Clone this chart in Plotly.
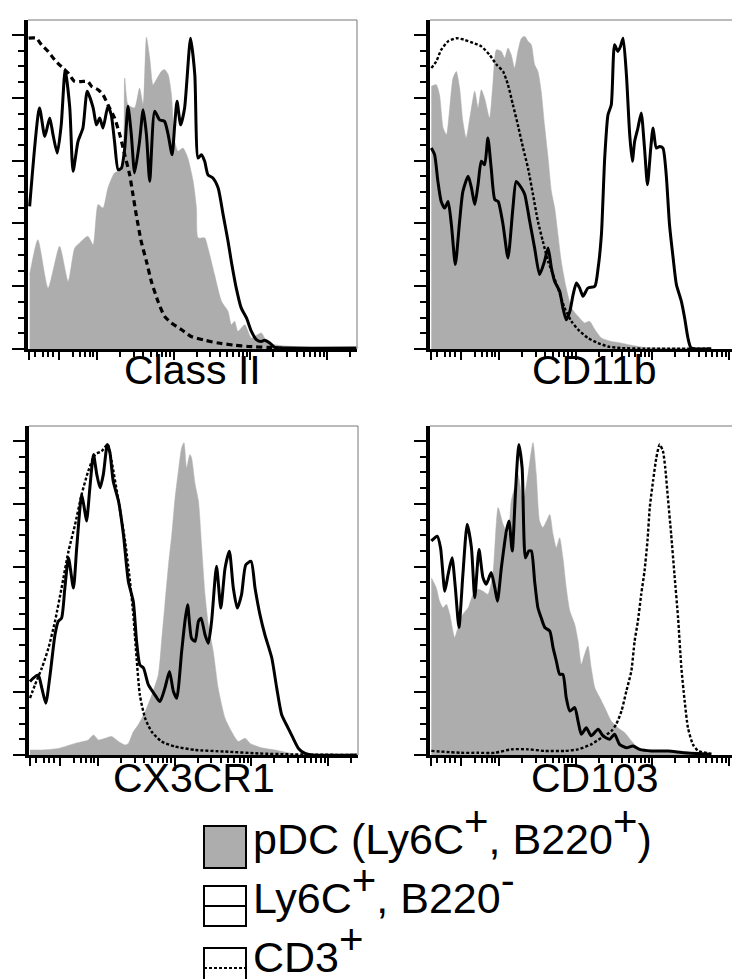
import numpy as np
import plotly.graph_objects as go

# x: position along the biexponential fluorescence axis (% of axis width)
# y: % of mode

# ---- Class II ----
classii_pdc_x = [0.5, 3.0, 6.1, 9.6, 12.2, 14.2, 15.7, 18.2, 19.8, 21.3, 22.8, 24.3, 26.3, 28.4, 29.4,
                 30.4, 32.4, 33.9, 35.0, 36.0, 37.0, 38.0, 39.0, 40.5, 41.5, 42.6, 43.6, 44.6, 45.6, 47.1,
                 48.6, 50.2, 51.2, 51.7, 53.7, 54.7, 56.7, 58.8, 60.8, 61.8, 62.8, 63.8, 65.9, 67.9, 70.9,
                 72.9, 80.0, 99.8]
classii_pdc_y = [23.7, 34.8, 19.4, 32.7, 21.5, 32.2, 33.8, 35.9, 33.2, 46.0, 44.9, 51.3, 56.1, 57.1, 86.3,
                 77.8, 76.8, 83.1, 77.8, 99.3, 92.7, 84.2, 85.8, 88.4, 89.0, 87.4, 81.0, 66.1, 63.0, 64.0,
                 60.8, 53.4, 44.9, 35.4, 35.4, 32.2, 23.7, 15.2, 12.0, 7.7, 8.8, 5.6, 7.7, 3.5, 5.1,
                 1.9, 0.8, 0.3]
classii_ly6c_x = [0.5, 3.5, 5.1, 6.6, 7.6, 8.9, 10.1, 11.3, 12.7, 13.7, 15.2, 16.7, 18.0, 19.8, 20.8,
                  21.8, 22.8, 24.3, 25.3, 26.3, 27.4, 28.4, 29.4, 30.4, 31.4, 32.4, 33.9, 35.0, 36.0, 37.0,
                  38.5, 40.0, 41.5, 42.6, 43.8, 44.6, 45.3, 46.4, 47.6, 49.4, 50.7, 51.7, 52.7, 53.7, 54.7,
                  56.2, 57.8, 59.3, 60.8, 61.8, 63.3, 64.8, 66.4, 67.9, 69.4, 70.9, 71.9, 73.5, 75.0, 80.0,
                  99.8]
classii_ly6c_y = [45.4, 76.8, 67.7, 73.6, 68.3, 62.4, 71.4, 89.0, 76.8, 56.6, 66.1, 70.4, 82.1, 76.8, 71.4,
                  73.6, 70.4, 77.3, 74.6, 66.1, 57.1, 57.6, 64.0, 77.3, 68.3, 56.1, 66.1, 76.2, 68.3, 53.4,
                  75.7, 73.0, 72.5, 68.3, 61.9, 71.4, 78.9, 71.4, 76.8, 99.0, 87.4, 60.8, 61.9, 59.8, 55.5,
                  54.5, 51.3, 42.8, 34.3, 27.9, 19.4, 13.1, 9.9, 5.6, 3.0, 2.4, 2.8, 1.9, 0.5, 0.3,
                  0.3]
classii_cd3_x = [0.2, 2.5, 4.1, 6.1, 8.1, 10.1, 12.2, 14.2, 16.2, 18.2, 19.3, 21.3, 22.8, 24.3, 26.3,
                 27.9, 29.4, 30.9, 31.9, 32.9, 34.4, 36.0, 37.5, 39.5, 41.5, 43.6, 46.6, 49.6, 53.7, 57.8,
                 62.8, 66.9, 72.9, 80.0, 99.8]
classii_cd3_y = [99.0, 99.0, 96.9, 94.8, 92.1, 90.0, 87.9, 85.2, 85.2, 85.2, 83.7, 82.6, 81.0, 77.8, 73.6,
                 68.3, 61.9, 55.5, 49.2, 42.8, 34.3, 27.9, 21.5, 15.2, 10.4, 8.3, 6.2, 4.0, 2.8, 1.9,
                 1.2, 0.8, 0.5, 0.1, 0.1]

# ---- CD11b ----
cd11b_pdc_x = [0.4, 1.9, 2.9, 4.0, 5.0, 6.0, 7.0, 8.0, 9.0, 10.0, 11.0, 12.1, 13.6, 14.6, 15.6,
               16.6, 18.1, 19.1, 20.2, 21.7, 22.7, 23.7, 24.7, 25.7, 26.7, 27.8, 28.8, 29.8, 30.8, 31.8,
               32.8, 33.8, 34.8, 35.9, 36.9, 37.9, 38.9, 39.9, 41.4, 43.0, 45.0, 47.0, 48.5, 50.1, 52.1,
               55.1, 57.1, 61.2, 65.2, 75.4, 85.5]
cd11b_pdc_y = [83.7, 84.2, 81.0, 70.4, 68.3, 76.8, 86.3, 88.4, 83.1, 72.5, 67.2, 73.6, 82.1, 76.8, 82.6,
               79.9, 73.6, 84.2, 95.3, 94.8, 92.7, 95.9, 93.7, 89.5, 94.8, 99.0, 99.6, 98.0, 96.9, 90.6,
               88.4, 82.1, 71.4, 60.8, 50.2, 44.9, 36.4, 27.9, 19.4, 13.1, 10.4, 8.3, 8.8, 6.2, 3.5,
               2.4, 2.1, 1.2, 0.5, 0.3, 0.1]
cd11b_ly6c_x = [0.4, 1.4, 2.4, 3.4, 4.5, 5.5, 6.5, 7.7, 9.0, 10.0, 11.6, 12.6, 13.6, 14.6, 15.6,
                16.6, 17.6, 18.6, 19.7, 20.7, 22.2, 23.7, 25.2, 26.2, 27.8, 28.8, 30.3, 31.8, 33.3, 34.8,
                35.9, 36.9, 37.9, 39.4, 40.4, 41.4, 42.5, 43.5, 44.5, 45.5, 46.5, 48.0, 50.1, 51.1, 52.1,
                53.1, 54.1, 55.1, 56.1, 57.1, 57.9, 58.7, 59.7, 60.7, 61.5, 62.2, 63.2, 64.2, 65.2, 66.1,
                67.1, 67.8, 68.8, 69.8, 70.8, 71.8, 72.8, 73.9, 74.9, 76.4, 77.4, 78.4, 79.4, 85.5]
cd11b_ly6c_y = [64.0, 61.9, 53.4, 47.0, 44.9, 47.0, 39.6, 26.9, 40.7, 50.2, 55.0, 51.3, 46.0, 52.3, 59.8,
                58.7, 67.2, 57.6, 47.6, 47.0, 39.6, 29.0, 44.9, 53.4, 51.3, 49.2, 40.7, 32.2, 23.7, 27.9,
                32.2, 25.8, 21.5, 18.4, 13.1, 9.3, 12.0, 17.3, 21.0, 19.4, 16.8, 19.4, 20.0, 25.8, 36.4,
                60.8, 74.6, 77.8, 96.9, 94.8, 96.4, 99.0, 87.4, 68.3, 59.8, 66.1, 70.4, 75.2, 64.0, 52.3,
                64.0, 70.4, 64.0, 64.5, 64.0, 55.5, 39.6, 29.0, 20.5, 15.2, 9.9, 3.5, 0.3, 0.1]
cd11b_cd3_x = [0.4, 1.9, 3.4, 5.5, 8.0, 10.5, 13.1, 15.6, 18.1, 20.2, 22.2, 23.7, 25.2, 26.7, 28.3,
               29.8, 31.3, 32.8, 34.3, 35.9, 37.4, 38.9, 40.9, 43.0, 45.0, 48.0, 51.1, 54.1, 58.1, 65.2,
               85.5]
cd11b_cd3_y = [89.5, 91.6, 95.3, 98.0, 99.0, 98.5, 97.5, 96.4, 93.7, 90.6, 88.4, 84.2, 77.8, 71.4, 64.0,
               57.6, 49.2, 40.7, 34.3, 27.9, 23.7, 19.4, 13.1, 8.8, 6.2, 3.5, 1.9, 0.8, 0.3, 0.1,
               0.1]

# ---- CX3CR1 ----
cx3cr1_pdc_x = [0.3, 3.9, 8.9, 14.0, 18.0, 19.6, 21.1, 23.1, 25.1, 27.2, 29.2, 30.2, 31.7, 33.2, 35.3,
                37.3, 39.3, 40.3, 41.3, 42.4, 43.4, 44.4, 45.4, 46.4, 47.1, 47.9, 48.9, 49.4, 50.5, 51.5,
                52.5, 53.5, 54.5, 56.0, 57.5, 59.6, 61.6, 63.6, 65.7, 67.2, 70.7, 74.8, 79.8, 84.9, 99.6]
cx3cr1_pdc_y = [1.6, 1.6, 2.1, 3.7, 4.8, 6.4, 4.8, 5.3, 5.9, 4.3, 3.2, 3.7, 7.4, 9.6, 13.8,
                19.1, 25.5, 36.2, 47.9, 60.6, 70.2, 81.9, 90.4, 97.9, 99.5, 91.5, 95.7, 94.7, 86.2, 80.9,
                66.0, 51.1, 41.5, 33.0, 21.3, 11.7, 7.4, 4.3, 5.3, 3.7, 2.3, 1.6, 0.5, 0.0, 0.0]
cx3cr1_ly6c_x = [0.3, 1.3, 2.8, 3.9, 5.1, 6.4, 7.9, 8.9, 9.9, 10.9, 12.0, 13.5, 14.5, 16.0, 16.8,
                 17.5, 18.5, 19.6, 20.6, 21.6, 22.6, 23.8, 24.6, 25.6, 27.2, 28.7, 30.2, 31.7, 32.7, 33.7,
                 34.8, 36.3, 38.3, 39.8, 41.3, 42.7, 43.9, 44.9, 46.4, 47.4, 48.2, 49.4, 50.5, 51.5, 52.3,
                 53.5, 54.5, 55.5, 57.0, 58.3, 59.6, 60.9, 62.1, 63.3, 64.6, 65.9, 67.5, 68.7, 70.2, 71.7,
                 73.8, 75.3, 76.8, 78.8, 80.3, 81.9, 83.9, 85.9, 99.6]
cx3cr1_ly6c_y = [23.4, 24.5, 25.5, 21.3, 16.5, 25.5, 38.3, 42.6, 43.6, 53.2, 62.8, 53.2, 66.0, 83.0, 78.7,
                 74.5, 85.1, 95.7, 89.4, 85.1, 89.4, 98.9, 96.3, 87.2, 80.9, 70.2, 55.3, 48.9, 36.2, 28.7,
                 27.7, 22.3, 19.1, 17.0, 21.3, 26.6, 20.2, 18.1, 33.0, 42.6, 47.9, 37.2, 36.2, 42.6, 43.6,
                 38.3, 35.6, 42.6, 60.1, 46.8, 59.6, 64.9, 53.2, 46.8, 51.1, 60.6, 61.7, 53.2, 44.7, 38.3,
                 30.9, 21.3, 12.8, 8.5, 5.3, 2.1, 0.5, 0.0, 0.0]
cx3cr1_cd3_x = [0.3, 1.8, 3.9, 5.9, 7.9, 9.9, 12.0, 14.0, 16.0, 18.0, 20.1, 22.1, 23.9, 25.1, 27.2,
                29.2, 30.7, 31.7, 32.7, 33.7, 35.3, 37.3, 40.3, 44.4, 50.5, 59.6, 69.7, 79.8, 99.6]
cx3cr1_cd3_y = [18.1, 22.3, 27.7, 34.0, 42.6, 53.2, 64.9, 73.4, 83.0, 90.4, 95.7, 96.8, 98.9, 93.6, 80.9,
                68.1, 55.3, 44.7, 30.9, 19.1, 11.7, 7.4, 4.3, 2.7, 1.6, 1.1, 0.5, 0.2, 0.0]

# ---- CD103 ----
cd103_pdc_x = [0.4, 1.9, 2.9, 4.0, 5.0, 6.0, 7.5, 8.5, 10.0, 11.6, 13.1, 14.6, 16.1, 17.6, 19.1,
               20.7, 22.2, 23.7, 24.7, 25.7, 26.7, 28.3, 29.8, 31.3, 32.3, 33.3, 34.3, 35.4, 36.4, 37.4,
               38.4, 39.4, 40.4, 41.4, 42.5, 44.0, 45.0, 46.0, 47.0, 48.0, 49.0, 50.1, 51.6, 53.1, 55.1,
               57.1, 59.2, 61.2, 63.2, 67.3, 75.4, 81.5, 85.5]
cd103_pdc_y = [56.5, 53.3, 49.0, 46.9, 48.0, 44.8, 37.4, 40.6, 44.8, 46.9, 51.2, 52.8, 52.2, 51.2, 57.5,
               78.8, 73.5, 70.3, 80.9, 85.1, 89.4, 80.9, 89.4, 99.5, 89.4, 74.5, 72.4, 74.5, 76.6, 70.3,
               66.0, 69.2, 62.8, 53.3, 45.9, 41.6, 36.3, 28.9, 32.1, 34.7, 27.8, 21.4, 18.3, 15.1, 10.8,
               8.7, 7.1, 4.5, 2.3, 1.3, 0.7, 0.2, 0.2]
cd103_ly6c_x = [0.4, 2.2, 3.2, 4.5, 5.5, 6.7, 7.7, 8.8, 10.0, 11.3, 12.6, 13.6, 14.9, 16.1, 17.1,
                18.6, 19.7, 20.5, 21.7, 23.2, 24.0, 25.0, 26.0, 27.0, 28.0, 29.0, 30.0, 30.8, 31.8, 32.8,
                33.8, 34.9, 36.4, 37.4, 38.4, 39.4, 40.4, 41.4, 42.5, 44.0, 45.0, 46.0, 47.5, 49.0, 51.1,
                52.6, 54.6, 56.1, 57.6, 59.7, 61.7, 63.7, 67.3, 72.3, 77.4, 85.5]
cd103_ly6c_y = [68.2, 69.7, 66.0, 52.2, 57.5, 62.8, 53.3, 40.6, 57.5, 73.5, 66.0, 50.1, 65.5, 56.5, 54.4,
                58.1, 53.3, 49.0, 59.7, 71.3, 74.5, 65.0, 84.1, 98.9, 91.5, 62.8, 65.0, 65.0, 55.4, 46.9,
                43.7, 40.6, 39.5, 34.2, 29.9, 25.7, 25.7, 18.3, 14.0, 15.1, 10.8, 6.6, 8.7, 6.1, 8.2,
                6.1, 5.0, 6.6, 3.4, 2.3, 2.9, 1.8, 1.3, 1.3, 0.7, 0.2]
cd103_cd3_x = [0.4, 9.5, 14.6, 19.7, 24.7, 29.8, 34.9, 40.9, 45.0, 49.0, 52.1, 55.1, 56.6, 58.2, 59.7,
               61.2, 62.2, 63.2, 64.2, 65.2, 66.1, 66.8, 67.8, 68.8, 69.8, 70.8, 71.5, 72.3, 73.3, 74.3,
               75.4, 76.4, 77.4, 78.4, 79.9, 81.5, 85.5]
cd103_cd3_y = [1.3, 0.7, 0.7, 0.7, 1.8, 1.8, 1.3, 1.3, 1.8, 3.4, 5.5, 7.6, 9.8, 14.0, 20.4,
               26.8, 36.3, 42.7, 51.2, 58.6, 68.2, 78.8, 87.3, 94.7, 98.9, 96.8, 91.5, 82.0, 70.3, 57.5,
               43.7, 27.8, 17.2, 8.7, 3.4, 1.3, 0.4]

panel_titles = ["Class II", "CD11b", "CX3CR1", "CD103"]
SUP = "<sup><span style='font-size:42px'>{}</span></sup>"
legend_labels = ["pDC (Ly6C" + SUP.format("+") + ", B220" + SUP.format("+") + ")",
                 "Ly6C" + SUP.format("+") + ", B220" + SUP.format("-"),
                 "CD3" + SUP.format("+")]

# ---------------------------------------------------------------
W, H = 740, 979
FONT = "Liberation Sans, Arial, Helvetica, sans-serif"
GRAY = "#ADADAD"

def px_x(p):
    return p / W

def px_y(p):
    return 1 - p / H

panels = [
    dict(title=panel_titles[0], gx=classii_pdc_x, gy=classii_pdc_y, sx=classii_ly6c_x, sy=classii_ly6c_y,
         dx=classii_cd3_x, dy=classii_cd3_y, left=20, top=12, bottom=341, dash="6px,4px", dw=3.2, lab=21),
    dict(title=panel_titles[1], gx=cd11b_pdc_x, gy=cd11b_pdc_y, sx=cd11b_ly6c_x, sy=cd11b_ly6c_y,
         dx=cd11b_cd3_x, dy=cd11b_cd3_y, left=422, top=12, bottom=341, dash="3px,2px", dw=2.4, lab=21),
    dict(title=panel_titles[2], gx=cx3cr1_pdc_x, gy=cx3cr1_pdc_y, sx=cx3cr1_ly6c_x, sy=cx3cr1_ly6c_y,
         dx=cx3cr1_cd3_x, dy=cx3cr1_cd3_y, left=21, top=418, bottom=747, dash="3px,2px", dw=2.4, lab=23),
    dict(title=panel_titles[3], gx=cd103_pdc_x, gy=cd103_pdc_y, sx=cd103_ly6c_x, sy=cd103_ly6c_y,
         dx=cd103_cd3_x, dy=cd103_cd3_y, left=422, top=418, bottom=747, dash="3px,2px", dw=2.4, lab=23),
]
AXW = 329  # axis width in px

# biexponential-style tick positions (% of axis width)
dec = 23.3
decade_pos = [21.0, 44.3, 67.6, 90.9]
lin_minor = [2.1, 4.6, 6.1, 7.6, 13.7, 15.8, 17.3, 18.8, 19.8]
x_major = [0.3, 9.4] + decade_pos
x_minor = lin_minor + [d + dec * np.log10(k) for d in decade_pos for k in range(2, 10)
                       if d + dec * np.log10(k) < 100]
y_major = [0, 20, 40, 60, 80, 100]
y_minor = [v for v in range(5, 100, 5) if v % 20]
YMAX = 104.8

fig = go.Figure()
shapes = []
annotations = []

for i, p in enumerate(panels, start=1):
    xa = "x" if i == 1 else f"x{i}"
    ya = "y" if i == 1 else f"y{i}"
    right_px = min(p["left"] + AXW, W)
    xmax = 100.0 * (right_px - p["left"]) / AXW
    fig.add_trace(go.Scatter(x=p["gx"], y=p["gy"], xaxis=xa, yaxis=ya, mode="lines",
                             line=dict(color=GRAY, width=0.5, shape="spline", smoothing=0.6),
                             fill="tozeroy", fillcolor=GRAY, showlegend=False, hoverinfo="skip"))
    fig.add_trace(go.Scatter(x=p["dx"], y=p["dy"], xaxis=xa, yaxis=ya, mode="lines",
                             line=dict(color="black", width=p["dw"], dash=p["dash"], shape="spline", smoothing=0.6),
                             showlegend=False, hoverinfo="skip"))
    fig.add_trace(go.Scatter(x=p["sx"], y=p["sy"], xaxis=xa, yaxis=ya, mode="lines",
                             line=dict(color="black", width=3, shape="spline", smoothing=0.6),
                             showlegend=False, hoverinfo="skip"))
    xkey = "xaxis" if i == 1 else f"xaxis{i}"
    ykey = "yaxis" if i == 1 else f"yaxis{i}"
    fig.update_layout(**{
        xkey: dict(domain=[px_x(p["left"]), px_x(right_px)], anchor=ya, range=[0, xmax],
                   showgrid=False, zeroline=False, showticklabels=False,
                   showline=True, linecolor="black", linewidth=2.5,
                   ticks="outside", tickmode="array", tickvals=x_major, ticklen=8, tickwidth=2,
                   tickcolor="black",
                   minor=dict(tickmode="array", tickvals=x_minor, ticks="outside", ticklen=5,
                              tickwidth=1.6, tickcolor="black", showgrid=False)),
        ykey: dict(domain=[px_y(p["bottom"]), px_y(p["top"])], anchor=xa, range=[0, YMAX],
                   showgrid=False, zeroline=False, showticklabels=False,
                   showline=True, linecolor="black", linewidth=4,
                   ticks="outside", tickmode="array", tickvals=y_major, ticklen=12, tickwidth=2,
                   tickcolor="black",
                   minor=dict(tickmode="array", tickvals=y_minor, ticks="outside", ticklen=6,
                              tickwidth=2, tickcolor="black", showgrid=False)),
    })
    # thin frame on top / right
    shapes.append(dict(type="line", xref=f"{xa} domain", yref=f"{ya} domain", x0=0, x1=1, y0=1, y1=1,
                       line=dict(color="#777777", width=1)))
    if p["left"] + AXW <= W:
        shapes.append(dict(type="line", xref=f"{xa} domain", yref=f"{ya} domain", x0=1, x1=1, y0=0, y1=1,
                           line=dict(color="#777777", width=1)))
    annotations.append(dict(text=p["title"], xref="paper", yref="paper",
                            x=px_x(p["left"] + AXW / 2), y=px_y(p["bottom"] + p["lab"]),
                            xanchor="center", yanchor="middle", showarrow=False,
                            font=dict(family=FONT, size=41, color="black")))

# custom legend
box_l, box_r = 196, 238
rows = [(818, 860), (878, 918), (940, 980)]
baselines = [858, 917, 976]
for k, (t, b) in enumerate(rows):
    fill = GRAY if k == 0 else "white"
    shapes.append(dict(type="rect", xref="paper", yref="paper", x0=px_x(box_l), x1=px_x(box_r),
                       y0=px_y(b), y1=px_y(t), fillcolor=fill, line=dict(color="black", width=2)))
    if k > 0:
        mid = (t + b) / 2
        shapes.append(dict(type="line", xref="paper", yref="paper", x0=px_x(box_l), x1=px_x(box_r),
                           y0=px_y(mid), y1=px_y(mid),
                           line=dict(color="black", width=2, dash="solid" if k == 1 else "3px,2px")))
    annotations.append(dict(text=legend_labels[k], xref="paper", yref="paper",
                            x=px_x(243), y=px_y(baselines[k] - 1), xanchor="left", yanchor="bottom",
                            showarrow=False, font=dict(family=FONT, size=43, color="black")))

fig.update_layout(width=W, height=H, margin=dict(l=0, r=0, t=0, b=0),
                  paper_bgcolor="white", plot_bgcolor="white",
                  shapes=shapes, annotations=annotations, showlegend=False)

fig.write_html("out.html")
